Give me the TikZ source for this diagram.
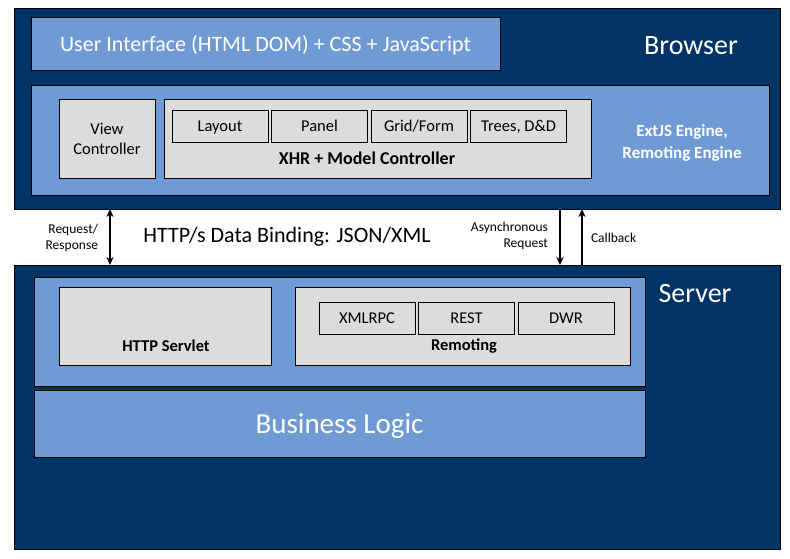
\documentclass[tikz,border=0pt]{standalone}
\usepackage{fontspec}
\setmainfont{Carlito}
\usetikzlibrary{positioning, arrows.meta}
\definecolor{navy}{RGB}{0,51,102}
\definecolor{skyblue}{RGB}{111,154,212}
\definecolor{panelgray}{RGB}{220,220,220}

\begin{document}
\begin{tikzpicture}[x=1pt, y=-1pt, node distance=3.5pt, line width=0.8pt]
      \tikzstyle{every node}=[inner sep=0pt, outer sep=0pt]
      \tikzstyle{tier}=[draw=black, fill=navy, anchor=north west]
      \tikzstyle{layer}=[draw=black, fill=skyblue, anchor=north west]
      \tikzstyle{part}=[draw=black, fill=panelgray, anchor=north west]
      \tikzstyle{widget}=[draw=black, fill=panelgray, minimum width=96pt, minimum height=32pt, text depth=0pt, font=\fontsize{16.5}{18}\selectfont]
      \tikzstyle{bigtext}=[text=white, font=\fontsize{28}{32}\selectfont]
      \tikzstyle{boldtext}=[font=\bfseries\fontsize{16.5}{18}\selectfont]
      \tikzstyle{smalltext}=[font=\fontsize{13.5}{16}\selectfont, align=right]
      \tikzstyle{link}=[line width=1.4pt, -{Stealth[length=8pt, width=7pt]}]

      \useasboundingbox (0,0) rectangle (790,558);

      % Browser
      \node[tier, minimum width=766pt, minimum height=201pt]  (browser) at (14,8) {};
      \node[layer, minimum width=469pt, minimum height=53pt]  (ui)      at (31,17) {};
      \node[text=white, text depth=0pt, font=\fontsize{22}{26}\selectfont] at (ui.center) {User Interface (HTML DOM) + CSS + JavaScript};
      \node[bigtext]                                          (browserlbl) at (691,46) {Browser};
      \node[layer, minimum width=738pt, minimum height=110pt] (engine)  at (31,85) {};
      \node[part, minimum width=96pt, minimum height=79pt, align=center, font=\fontsize{16.5}{20}\selectfont] (view) at (59,99) {View\\Controller};
      \node[part, minimum width=427pt, minimum height=79pt]   (xhr)     at (164,99) {};
      \node[widget, anchor=north west]  (layout) at (172,110) {Layout};
      \node[widget]                     (panel)  [right=of layout] {Panel};
      \node[widget]                     (grid)   [right=of panel] {Grid/Form};
      \node[widget]                     (trees)  [right=of grid] {Trees, D\&D};
      \node[boldtext, font=\bfseries\fontsize{18}{20}\selectfont] (xhrlbl) at (367,158) {XHR + Model Controller};
      \node[boldtext, text=white, align=center, font=\bfseries\fontsize{17}{22}\selectfont] (enginelbl) at (682,143) {ExtJS Engine,\\Remoting Engine};

      % Server
      \node[tier, minimum width=766pt, minimum height=284pt]  (server)  at (14,265) {};
      \node[bigtext]                                          (serverlbl) at (695,294) {Server};
      \node[layer, minimum width=611pt, minimum height=109pt] (upper)   at (34,277) {};
      \node[part, minimum width=212pt, minimum height=78pt]   (servlet) at (59,287) {};
      \node[boldtext]                                         at (166,346) {HTTP Servlet};
      \node[part, minimum width=335pt, minimum height=78pt]   (remoting) at (295,287) {};
      \node[widget, anchor=north west]  (xmlrpc) at (319,302) {XMLRPC};
      \node[widget]                     (rest)   [right=of xmlrpc] {REST};
      \node[widget]                     (dwr)    [right=of rest] {DWR};
      \node[boldtext]                   (remlbl) at (464,346) {Remoting};
      \node[layer, minimum width=611pt, minimum height=67pt]  (logic)   at (34,390) {};
      \node[text=white, text depth=0pt, font=\fontsize{29}{34}\selectfont] at (logic.center) {Business Logic};

      % Links between tiers
      \node[font=\fontsize{22}{26}\selectfont] (binding) at (287,237) {HTTP/s Data Binding: JSON/XML};
      \node[smalltext, anchor=east] (reqlbl)   at (98,238)  {Request/\\Response};
      \node[smalltext, anchor=east] (asynclbl) at (548,236) {Asynchronous\\Request};
      \node[smalltext, anchor=west] (cblbl)    at (591,238) {Callback};
      \coordinate (reqx)   at (110,0);
      \coordinate (asyncx) at (560,0);
      \coordinate (cbx)    at (582,0);

      \draw[link, {Stealth[length=8pt, width=7pt]}-{Stealth[length=8pt, width=7pt]}] (browser.south -| reqx) -- (server.north -| reqx);
      \draw[link] (browser.south -| asyncx) -- (server.north -| asyncx);
      \draw[link] (server.north -| cbx) -- (browser.south -| cbx);
    \end{tikzpicture}
\end{document}
